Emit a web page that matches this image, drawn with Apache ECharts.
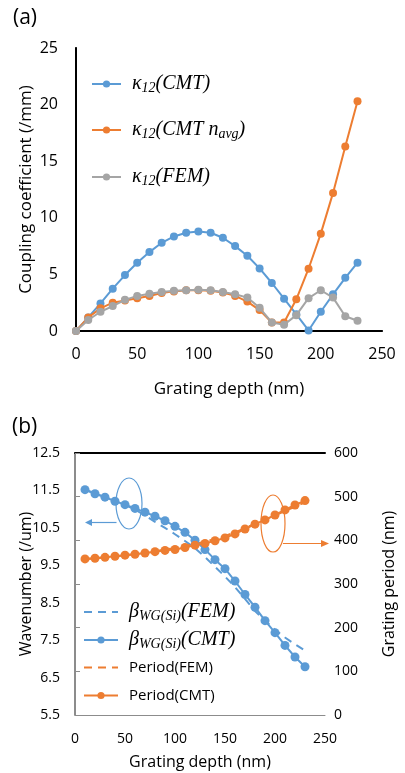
<!DOCTYPE html>
<html>
<head>
<meta charset="utf-8">
<script src="https://cdn.jsdelivr.net/npm/echarts@6/dist/echarts.min.js"></script>
<style>html,body{margin:0;padding:0;background:#fff;}#c{width:405px;height:773px;}</style>
</head>
<body>
<div id="c"></div>
<script>
// ---- Panel (a) data ----
const depthA = [0,10,20,30,40,50,60,70,80,90,100,110,120,130,140,150,160,170,180,190,200,210,220,230];
const kappaCMT = [0,1.2,2.44,3.74,4.94,6.03,6.97,7.79,8.35,8.68,8.79,8.68,8.24,7.5,6.65,5.53,4.24,2.85,1.47,0.05,1.7,3.24,4.7,6.03];
const kappaCMTavg = [0,1.2,2.0,2.5,2.7,2.9,3.1,3.35,3.5,3.6,3.6,3.55,3.4,3.1,2.6,1.85,0.75,0.75,2.8,5.5,8.6,12.2,16.3,20.3];
const kappaFEM = [0,0.97,1.7,2.2,2.75,3.1,3.3,3.45,3.55,3.6,3.65,3.6,3.45,3.25,2.95,2.05,0.75,0.55,1.4,2.9,3.6,2.95,1.3,0.9];
const ticksAX = [0,50,100,150,200,250];
const ticksAY = [0,5,10,15,20,25];

// ---- Panel (b) data ----
const depthB = [10,20,30,40,50,60,70,80,90,100,110,120,130,140,150,160,170,180,190,200,210,220,230];
const betaFEM = [11.52,11.42,11.32,11.22,11.11,10.99,10.83,10.66,10.5,10.33,10.15,9.96,9.72,9.46,9.2,8.92,8.6,8.28,8.02,7.78,7.57,7.39,7.22];
const betaCMT = [11.52,11.41,11.32,11.21,11.12,11.02,10.92,10.81,10.69,10.54,10.38,10.17,9.92,9.65,9.41,9.08,8.72,8.38,8.02,7.70,7.36,7.05,6.79];
const periodFEM = [357,359,361,363,366,368,371,375,379,382,387,392,397,403,410,418,428,438,447,457,467,477,487];
const periodCMT = [357.5,359,361,363.6,366,368,371,374,377,379,383.5,389,393,399,405.6,414.7,426,437,446.7,458,469.6,481,491];
const ticksBX = [0,50,100,150,200,250];
const ticksBLeft = [5.5,6.5,7.5,8.5,9.5,10.5,11.5,12.5];
const ticksBRight = [0,100,200,300,400,500,600];

const BLUE = '#5B9BD5', ORANGE = '#ED7D31', GRAY = '#A5A5A5';
const SANS = '"Open Sans", "Noto Sans", sans-serif';
const SERIF = '"Liberation Serif", "DejaVu Serif", serif';

function pairs(xs, ys){ return xs.map((x,i)=>[x, ys[i]]); }

const mathRich = {
  m: {fontFamily: SERIF, fontStyle: 'italic', fontSize: 20, color: '#000'},
  s: {fontFamily: SERIF, fontStyle: 'italic', fontSize: 14, color: '#000', padding: [9,0,0,0]},
  t: {fontFamily: SANS, fontSize: 15, color: '#000'}
};

const legendNames = {
  a1: 'κ12(CMT)', a2: 'κ12(CMT navg)', a3: 'κ12(FEM)',
  b1: 'βWG(Si)(FEM)', b2: 'βWG(Si)(CMT)', b3: 'Period(FEM)', b4: 'Period(CMT)'
};
const legendFmt = {
  'κ12(CMT)': '{m|κ}{s|12}{m|(CMT)}',
  'κ12(CMT navg)': '{m|κ}{s|12}{m|(CMT n}{s|avg}{m|)}',
  'κ12(FEM)': '{m|κ}{s|12}{m|(FEM)}',
  'βWG(Si)(FEM)': '{m|β}{s|WG(Si)}{m|(FEM)}',
  'βWG(Si)(CMT)': '{m|β}{s|WG(Si)}{m|(CMT)}',
  'Period(FEM)': '{t|Period(FEM)}',
  'Period(CMT)': '{t|Period(CMT)}'
};

function mkLegend(name, left, top, w, noSymbol){
  const item = noSymbol ? {name: name, itemStyle: {opacity: 0}} : name;
  return {
    data: [item], orient: 'vertical', left: left, top: top,
    itemWidth: w, itemHeight: 9, padding: 0,
    formatter: n => legendFmt[n],
    textStyle: {rich: mathRich, padding: [0,0,0,6]}
  };
}

const chart = echarts.init(document.getElementById('c'), null, {renderer: 'canvas'});
const option = {
  animation: false,
  backgroundColor: '#fff',
  title: [
    {text: '(a)', left: 8, top: 3, textStyle: {fontFamily: SANS, fontSize: 21, fontWeight: 'normal', color: '#000'}},
    {text: '(b)', left: 7, top: 412, textStyle: {fontFamily: SANS, fontSize: 21, fontWeight: 'normal', color: '#000'}}
  ],
  legend: [
    mkLegend(legendNames.a1, 91, 74, 29),
    mkLegend(legendNames.a2, 91, 120, 29),
    mkLegend(legendNames.a3, 91, 167, 29),
    mkLegend(legendNames.b1, 83, 602, 34, true),
    mkLegend(legendNames.b2, 83, 630, 34),
    mkLegend(legendNames.b3, 83, 660, 34, true),
    mkLegend(legendNames.b4, 83, 688, 34)
  ],
  grid: [
    {left: 76, top: 48, width: 306, height: 283},
    {left: 75, top: 453, width: 263, height: 262}
  ],
  xAxis: [
    {gridIndex: 0, type: 'value', min: 0, max: 250, interval: 50, position: 'bottom',
     axisLine: {show: true, lineStyle: {color: '#8c8c8c', width: 2}}, axisTick: {show: false}, splitLine: {show: false},
     axisLabel: {fontFamily: SANS, fontSize: 16, color: '#000', margin: 15},
     name: 'Grating depth (nm)', nameLocation: 'middle', nameGap: 50, nameMoveOverlap: false,
     nameTextStyle: {fontFamily: SANS, fontSize: 17, color: '#000'}},
    {gridIndex: 0, type: 'value', min: 0, max: 250, position: 'top',
     axisLine: {show: true, lineStyle: {color: '#000', width: 2}}, axisTick: {show: false}, axisLabel: {show: false}, splitLine: {show: false}},
    {gridIndex: 1, type: 'value', min: 0, max: 250, interval: 50, position: 'bottom',
     axisLine: {show: true, lineStyle: {color: '#8c8c8c', width: 1}}, axisTick: {show: false}, splitLine: {show: false},
     axisLabel: {fontFamily: SANS, fontSize: 14, color: '#000', margin: 17},
     name: 'Grating depth (nm)', nameLocation: 'middle', nameGap: 39, nameMoveOverlap: false,
     nameTextStyle: {fontFamily: SANS, fontSize: 16, color: '#000'}},
    {gridIndex: 1, type: 'value', min: 0, max: 250, position: 'top',
     axisLine: {show: true, lineStyle: {color: '#000', width: 2}}, axisTick: {show: false}, axisLabel: {show: false}, splitLine: {show: false}}
  ],
  yAxis: [
    {gridIndex: 0, type: 'value', min: 0, max: 25, interval: 5, position: 'left',
     axisLine: {show: true, lineStyle: {color: '#8c8c8c', width: 2}}, axisTick: {show: false}, splitLine: {show: false},
     axisLabel: {fontFamily: SANS, fontSize: 16, color: '#000', margin: 18},
     name: 'Coupling coefficient (/mm)', nameLocation: 'middle', nameGap: 41, nameMoveOverlap: false,
     nameTextStyle: {fontFamily: SANS, fontSize: 17, color: '#000'}},
    {gridIndex: 0, type: 'value', min: 0, max: 25, position: 'right',
     axisLine: {show: true, lineStyle: {color: '#000', width: 2}}, axisTick: {show: false}, axisLabel: {show: false}, splitLine: {show: false}},
    {gridIndex: 1, type: 'value', min: 5.5, max: 12.5, interval: 1, position: 'left',
     axisLine: {show: true, lineStyle: {color: '#666', width: 1.5}}, axisTick: {show: false}, splitLine: {show: false},
     axisLabel: {fontFamily: SANS, fontSize: 14, color: '#000', margin: 15, formatter: v => v.toFixed(1)},
     name: 'Wavenumber (/um)', nameLocation: 'middle', nameGap: 41, nameMoveOverlap: false,
     nameTextStyle: {fontFamily: SANS, fontSize: 16, color: '#000'}},
    {gridIndex: 1, type: 'value', min: 0, max: 600, interval: 100, position: 'right',
     axisLine: {show: true, lineStyle: {color: '#8c8c8c', width: 1}},
     axisTick: {show: true, length: 5, lineStyle: {color: '#8c8c8c'}}, splitLine: {show: false},
     axisLabel: {fontFamily: SANS, fontSize: 14, color: '#000', margin: 9},
     name: 'Grating period (nm)', nameLocation: 'middle', nameGap: 56, nameMoveOverlap: false,
     nameTextStyle: {fontFamily: SANS, fontSize: 16, color: '#000'}}
  ],
  series: [
    {name: legendNames.a1, type: 'line', xAxisIndex: 0, yAxisIndex: 0, data: pairs(depthA, kappaCMT),
     color: BLUE, symbol: 'circle', symbolSize: 8, lineStyle: {width: 2}, z: 3},
    {name: legendNames.a2, type: 'line', xAxisIndex: 0, yAxisIndex: 0, data: pairs(depthA, kappaCMTavg),
     color: ORANGE, symbol: 'circle', symbolSize: 8, lineStyle: {width: 2}, z: 4},
    {name: legendNames.a3, type: 'line', xAxisIndex: 0, yAxisIndex: 0, data: pairs(depthA, kappaFEM),
     color: GRAY, symbol: 'circle', symbolSize: 8, lineStyle: {width: 2}, z: 5},
    {name: legendNames.b1, type: 'line', xAxisIndex: 2, yAxisIndex: 2, data: pairs(depthB, betaFEM),
     color: BLUE, symbol: 'none', showSymbol: false, lineStyle: {width: 2, type: [8,6]}, z: 3},
    {name: legendNames.b2, type: 'line', xAxisIndex: 2, yAxisIndex: 2, data: pairs(depthB, betaCMT),
     color: BLUE, symbol: 'circle', symbolSize: 9, lineStyle: {width: 2}, z: 4},
    {name: legendNames.b3, type: 'line', xAxisIndex: 2, yAxisIndex: 3, data: pairs(depthB, periodFEM),
     color: ORANGE, symbol: 'none', showSymbol: false, lineStyle: {width: 2, type: [8,6]}, z: 3},
    {name: legendNames.b4, type: 'line', xAxisIndex: 2, yAxisIndex: 3, data: pairs(depthB, periodCMT),
     color: ORANGE, symbol: 'circle', symbolSize: 9, lineStyle: {width: 2}, z: 4}
  ],
  graphic: [
    {type: 'ellipse', shape: {cx: 129, cy: 503.5, rx: 13, ry: 25.5}, style: {fill: 'none', stroke: BLUE, lineWidth: 1.2}, z: 10},
    {type: 'line', shape: {x1: 116.5, y1: 522.5, x2: 90, y2: 522.5}, style: {stroke: BLUE, lineWidth: 1.2}, z: 10},
    {type: 'polygon', shape: {points: [[85,522.5],[92,519],[92,526]]}, style: {fill: BLUE}, z: 10},
    {type: 'ellipse', shape: {cx: 273, cy: 523.5, rx: 12, ry: 28.5}, style: {fill: 'none', stroke: ORANGE, lineWidth: 1.2}, z: 10},
    {type: 'line', shape: {x1: 283, y1: 543.5, x2: 322, y2: 543.5}, style: {stroke: ORANGE, lineWidth: 1.2}, z: 10},
    {type: 'polygon', shape: {points: [[329,543.5],[321,540],[321,547]]}, style: {fill: ORANGE}, z: 10}
  ]
};
chart.setOption(option);
</script>
</body>
</html>
